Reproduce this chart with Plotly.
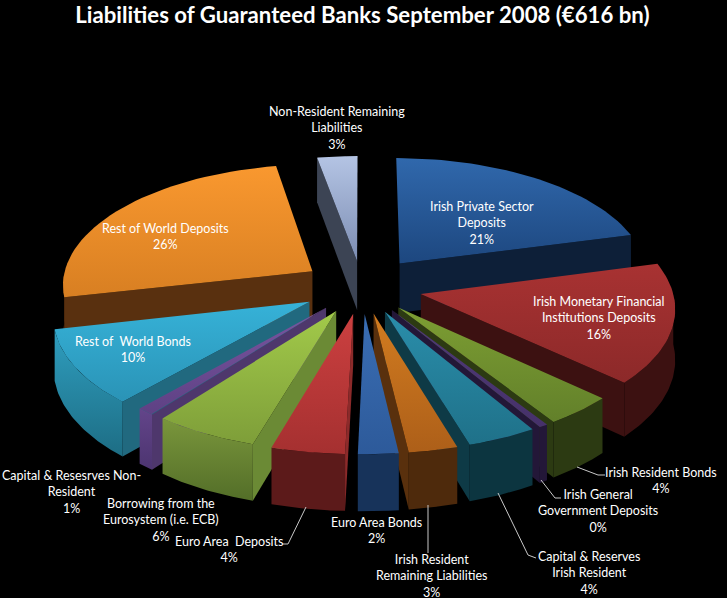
import numpy as np
import plotly.graph_objects as go

categories = ["Irish Private Sector Deposits", "Irish Monetary Financial Institutions Deposits",
              "Irish Resident Bonds", "Irish General Government Deposits",
              "Capital & Reserves Irish Resident", "Irish Resident Remaining Liabilities",
              "Euro Area Bonds", "Euro Area Deposits", "Borrowing from the Eurosystem (i.e. ECB)",
              "Capital & Resesrves Non-Resident", "Rest of World Bonds", "Rest of World Deposits",
              "Non-Resident Remaining Liabilities"]
values = [21, 16, 4, 0.5, 4, 2.8, 2.3, 4.2, 6, 1, 10, 25.7, 2.9]

top_light = ["#3068ac", "#a83232", "#7d9e33", "#4f3a78", "#2a8eab", "#d27c20", "#3a6eb4", "#cc4040",
             "#a2ca4a", "#7a55a0", "#36b2d8", "#f9982f", "#b4c4e4"]
top_dark = ["#1d477f", "#8c2929", "#62802a", "#46316a", "#1f7189", "#ad5f19", "#2d5a9a", "#a53030",
            "#7e9e39", "#5e4184", "#2a93b6", "#d87f22", "#7c8db2"]
side_col = ["#0d1f38", "#3c1111", "#2c3a12", "#231738", "#0e3a46", "#59300d", "#17335a", "#8c2a2a",
            "#6b8a35", "#4e376c", "#21697f", "#59300f", "#3c4454"]
arc_col = ["#0d1f38", "#3c1111", "#2c3a12", "#231738", "#0c3540", "#4e2a0c", "#17335a", "#5c1a1a",
           "#7a963c", "#63458a", "#2f9ebf", "#59300f", "#3c4454"]
arc_low = ["#0d1f38", "#3c1111", "#2c3a12", "#231738", "#0c3540", "#4e2a0c", "#17335a", "#5c1a1a",
           "#536e28", "#4c3470", "#1d6d84", "#59300f", "#3c4454"]
pulls = [0.25, 0.24, 0.22, 0.22, 0.22, 0.22, 0.22, 0.22, 0.22, 0.22, 0.24, 0.24, 0.22]

labels = [
    ("Irish Private Sector<br>Deposits<br>21%", 482, 223),
    ("Irish Monetary Financial<br>Institutions Deposits<br>16%", 599, 318),
    ("Irish Resident Bonds<br>4%", 661, 480),
    ("Irish General<br>Government Deposits<br>0%", 598, 511),
    ("Capital &amp; Reserves<br>Irish Resident<br>4%", 589, 573),
    ("Irish Resident<br>Remaining Liabilities<br>3%", 431, 576),
    ("Euro Area Bonds<br>2%", 376, 530),
    ("Euro Area  Deposits<br>4%", 229, 549),
    ("Borrowing from the<br>Eurosystem (i.e. ECB)<br>6%", 161, 520),
    ("Capital &amp; Resesrves Non-<br>Resident<br>1%", 71, 492),
    ("Rest of  World Bonds<br>10%", 133, 349),
    ("Rest of World Deposits<br>26%", 165, 236),
    ("Non-Resident Remaining<br>Liabilities<br>3%", 337, 128),
]
leaders = [
    ([577, 598, 605], [467, 475, 475]),
    ([541, 555, 561], [480, 498, 498]),
    ([498, 528, 536], [493, 555, 558]),
    ([428, 428], [505, 553]),
    ([306, 288, 282], [507, 544, 544]),
]

CX, CY, R, K, P, D = 362, 287, 251, 0.48, 0.10, 50


def project(X, Y, down=False):
    s = 1 / (1 + P * Y)
    return CX + X * R * s, CY - Y * R * K * s + (D * s if down else 0)


def polygon(pts, color, color2=None):
    xs = [p[0] for p in pts] + [pts[0][0]]
    ys = [p[1] for p in pts] + [pts[0][1]]
    kw = dict(fillcolor=color)
    if color2 and color2 != color:
        # first colour at the top of the picture (the y axis is reversed)
        kw = dict(fillgradient=dict(type="vertical", colorscale=[[0, color2], [1, color]]))
    return go.Scatter(x=xs, y=ys, mode="lines", fill="toself", line=dict(width=0),
                      hoverinfo="skip", showlegend=False, **kw)


fig = go.Figure()
total = sum(values)
ends = np.cumsum(values) / total * 2 * np.pi
starts = ends - np.array(values) / total * 2 * np.pi
order = sorted(range(len(values)), key=lambda i: -np.cos((starts[i] + ends[i]) / 2))

for i in order:
    t1, t2 = starts[i], ends[i]
    mid = (t1 + t2) / 2
    ox, oy = pulls[i] * np.sin(mid), pulls[i] * np.cos(mid)
    th = np.linspace(t1, t2, 40)
    rim = [(ox + np.sin(t), oy + np.cos(t)) for t in th]
    tip = (ox, oy)
    if np.sin(t1) < 0:
        a, b = rim[0], tip
        fig.add_trace(polygon([project(*a), project(*b), project(*b, True), project(*a, True)], side_col[i]))
    if np.sin(t2) > 0:
        a, b = rim[-1], tip
        fig.add_trace(polygon([project(*a), project(*b), project(*b, True), project(*a, True)], side_col[i]))
    lo, hi = max(t1, np.pi / 2), min(t2, 3 * np.pi / 2)
    if hi > lo:
        tf = np.linspace(lo, hi, 40)
        f = [(ox + np.sin(t), oy + np.cos(t)) for t in tf]
        pts = [project(*p) for p in f] + [project(*p, True) for p in f[::-1]]
        fig.add_trace(polygon(pts, arc_col[i], arc_low[i]))
    fig.add_trace(polygon([project(*tip)] + [project(*p) for p in rim], top_light[i], top_dark[i]))

for lx, ly in leaders:
    fig.add_trace(go.Scatter(x=lx, y=ly, mode="lines", line=dict(color="#c8c8c8", width=1),
                             hoverinfo="skip", showlegend=False))

for text, x, y in labels:
    fig.add_annotation(x=x, y=y, text=text, showarrow=False, xanchor="center", yanchor="middle",
                       font=dict(family="Lato", size=12.5, color="#ffffff"), align="center")

fig.update_layout(
    width=727, height=598, margin=dict(l=0, r=0, t=0, b=0),
    paper_bgcolor="#000000", plot_bgcolor="#000000",
    xaxis=dict(range=[0, 727], visible=False, fixedrange=True),
    yaxis=dict(range=[598, 0], visible=False, fixedrange=True),
    title=dict(text="<b>Liabilities of Guaranteed Banks September 2008 (€616 bn)</b>",
               x=0.4985, xanchor="center", y=0.975, yanchor="middle",
               font=dict(family="Lato", size=22.2, color="#ffffff")),
)
fig.write_html("out.html", config=dict(displayModeBar=False),
               post_script="document.body.style.margin='0';document.body.style.background='#000';")
